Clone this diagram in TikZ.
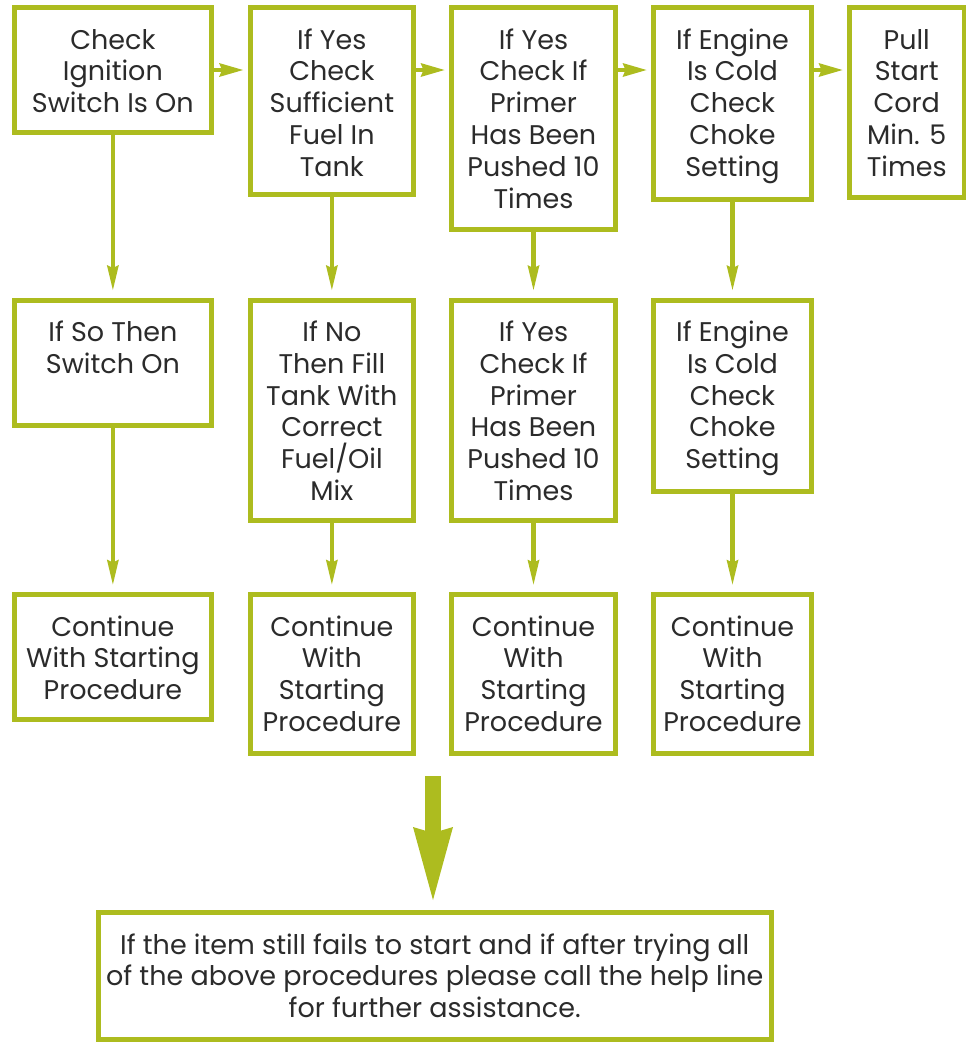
\documentclass[tikz,border=0pt]{standalone}
\usepackage{fontspec}
\setmainfont{Poppins}
\usetikzlibrary{arrows.meta}
\definecolor{grn}{HTML}{ADBC1F}
\definecolor{txt}{HTML}{2B2B2B}
\tikzset{
  box/.style={draw=grn, line width=5pt, rectangle, inner sep=0pt, outer sep=0pt, anchor=north west, fill=white},
  lbl/.style={anchor=base, inner sep=0pt, text=txt, font=\fontsize{27pt}{31.8pt}\selectfont},
  harr/.style={draw=grn, line width=4.5pt, -{Stealth[length=24pt,width=14pt,inset=3pt,line width=0pt]}, shorten >=7pt},
  varr/.style={draw=grn, line width=4.5pt, -{Stealth[length=25pt,width=12pt,inset=3pt,line width=0pt]}, shorten >=10pt},
  bigarr/.style={draw=grn, line width=16pt, -{Stealth[length=73pt,width=40pt,inset=6pt,line width=0pt]}, shorten >=12.5pt}
}
\newcommand\flowbox[6]{%
  \node[box, minimum width={#4pt-#2pt}, minimum height={#5pt-#3pt}] (#1) at (#2,#3) {};
  \node[lbl] (#1t) at ([yshift=-41.5pt]#1.north) {\parbox[t]{\dimexpr #4pt-#2pt+60pt\relax}{\centering #6}};
}
\begin{document}
\begin{tikzpicture}[x=1pt,y=-1pt]
\useasboundingbox (0,0) rectangle (966,1042);
% row 1
\flowbox{A1}{14.25}{7.5}{211.5}{132.5}{Check\\Ignition\\Switch Is On}
\flowbox{B1}{250}{7.5}{413.75}{194.5}{If Yes\\Check\\Sufficient\\Fuel In\\Tank}
\flowbox{C1}{451.5}{7.5}{615.5}{229.5}{If Yes\\Check If\\Primer\\Has Been\\Pushed 10\\Times}
\flowbox{D1}{653.5}{7.5}{811.5}{199.5}{If Engine\\Is Cold\\Check\\Choke\\Setting}
\flowbox{E1}{849.5}{7.5}{964}{197.5}{Pull\\Start\\Cord\\Min. 5\\Times}
% row 2
\flowbox{A2}{14.25}{300}{211.5}{425.5}{If So Then\\Switch On}
\flowbox{B2}{250}{300}{413.75}{520.5}{If No\\Then Fill\\Tank With\\Correct\\Fuel/Oil\\Mix}
\flowbox{C2}{451.5}{300}{615.5}{520.5}{If Yes\\Check If\\Primer\\Has Been\\Pushed 10\\Times}
\flowbox{D2}{653.5}{300}{811.5}{491.5}{If Engine\\Is Cold\\Check\\Choke\\Setting}
% row 3
\flowbox{A3}{14.25}{594.5}{211.5}{719.5}{Continue\\With Starting\\Procedure}
\flowbox{B3}{250}{594.5}{413.75}{753.5}{Continue\\With\\Starting\\Procedure}
\flowbox{C3}{451.5}{594.5}{615.5}{753.5}{Continue\\With\\Starting\\Procedure}
\flowbox{D3}{653.5}{594.5}{811.5}{753.5}{Continue\\With\\Starting\\Procedure}
% bottom
\flowbox{F}{98}{912.5}{771.5}{1039.5}{If the item still fails to start and if after trying all\\of the above procedures please call the help line\\for further assistance.}
% horizontal arrows
\draw[harr] ([yshift=-62.5pt]A1.north east) -- ([yshift=-62.5pt]B1.north west);
\draw[harr] ([yshift=-62.5pt]B1.north east) -- ([yshift=-62.5pt]C1.north west);
\draw[harr] ([yshift=-62.5pt]C1.north east) -- ([yshift=-62.5pt]D1.north west);
\draw[harr] ([yshift=-62.5pt]D1.north east) -- ([yshift=-62.5pt]E1.north west);
% vertical arrows
\draw[varr] (A1.south) -- (A2.north);
\draw[varr] (B1.south) -- (B2.north);
\draw[varr] (C1.south) -- (C2.north);
\draw[varr] (D1.south) -- (D2.north);
\draw[varr] (A2.south) -- (A3.north);
\draw[varr] (B2.south) -- (B3.north);
\draw[varr] (C2.south) -- (C3.north);
\draw[varr] (D2.south) -- (D3.north);
% big arrow
\coordinate (bt) at (433,776);
\draw[bigarr] (bt) -- (bt |- F.north);
\end{tikzpicture}
\end{document}
